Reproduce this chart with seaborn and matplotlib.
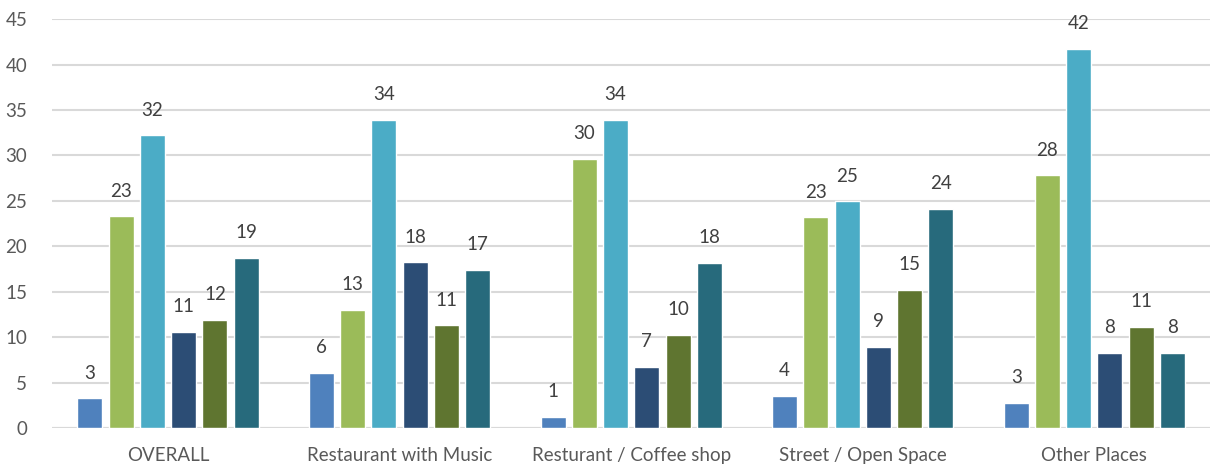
import numpy as np
import pandas as pd
import matplotlib
matplotlib.use("Agg")
import matplotlib.pyplot as plt
import seaborn as sns

categories = ["OVERALL", "Restaurant with Music", "Resturant / Coffee shop",
              "Street / Open Space", "Other Places"]
series_names = ["S1", "S2", "S3", "S4", "S5", "S6"]
s1 = [3.25, 6.05, 1.2, 3.55, 2.75]
s2 = [23.3, 13.0, 29.6, 23.2, 27.8]
s3 = [32.2, 33.9, 33.9, 24.95, 41.7]
s4 = [10.55, 18.25, 6.7, 8.9, 8.3]
s5 = [11.9, 11.3, 10.26, 15.2, 11.1]
s6 = [18.7, 17.4, 18.2, 24.1, 8.3]
colors = ["#4F81BD", "#9BBB59", "#4BACC6", "#2C4D75", "#5F7530", "#276A7C"]
yticks = [0, 5, 10, 15, 20, 25, 30, 35, 40, 45]

rows = []
for name, vals in zip(series_names, [s1, s2, s3, s4, s5, s6]):
    for c, v in zip(categories, vals):
        rows.append({"category": c, "series": name, "value": v})
df = pd.DataFrame(rows)

sns.set_theme(style="white")
plt.rcParams["font.family"] = ["Lato", "DejaVu Sans"]

fig = plt.figure(figsize=(12.15, 4.66), dpi=100)
ax = fig.add_axes([0.043, 0.0815, 0.953, 0.8775])

sns.barplot(data=df, x="category", y="value", hue="series", order=categories,
            hue_order=series_names, palette=colors, width=0.81, gap=0.2,
            ax=ax, legend=False, saturation=1, errorbar=None)

for cont in ax.containers:
    labels = [f"{int(np.floor(b.get_height() + 0.5))}" for b in cont]
    ax.bar_label(cont, labels=labels, padding=12, fontsize=13.5, color="#404040")

ax.set_ylim(0, 45)
ax.set_yticks(yticks)
ax.set_xlim(-0.5, len(categories) - 0.5)
ax.yaxis.grid(True, color="#D9D9D9", linewidth=1.5)
ax.set_axisbelow(True)
for s in ax.spines.values():
    s.set_visible(False)
ax.axhline(0, color="#D9D9D9", linewidth=1.5, zorder=0)
ax.set_xlabel("")
ax.set_ylabel("")
ax.tick_params(axis="both", length=0, labelsize=13.5, labelcolor="#595959")
ax.tick_params(axis="x", pad=14)
ax.tick_params(axis="y", pad=18)
for t in ax.get_yticklabels():
    t.set_horizontalalignment("right")

fig.savefig("out.png", dpi=100)
